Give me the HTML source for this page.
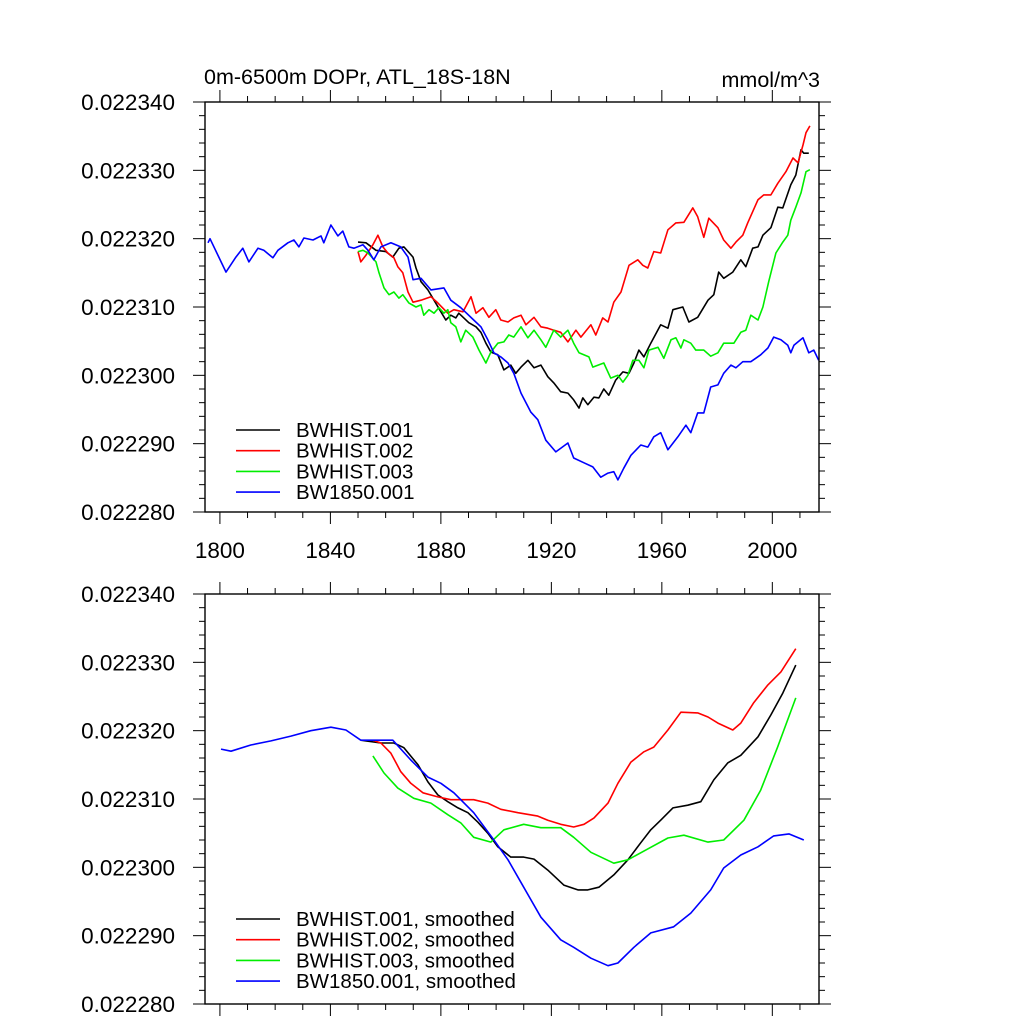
<!DOCTYPE html>
<html><head><meta charset="utf-8"><style>
html,body{margin:0;padding:0;background:#fff;}
svg{display:block;font-family:"Liberation Sans",Arial,sans-serif;}
</style></head><body>
<svg id="chart" width="1024" height="1024" viewBox="0 0 1024 1024" xmlns="http://www.w3.org/2000/svg">
<text x="204" y="84" font-size="21.5">0m-6500m DOPr, ATL_18S-18N</text>
<text x="820" y="87" font-size="21.5" text-anchor="end">mmol/m^3</text>
</svg>
<script>
// ---- data (mmol/m^3) ----
const blackYears=[1850.0,1852.9,1856.5,1860.1,1862.6,1864.8,1866.6,1869.9,1871.0,1872.8,1875.3,1877.5,1880.0,1881.8,1883.6,1885.4,1886.5,1888.3,1890.1,1892.7,1894.5,1896.3,1898.1,1900.6,1902.8,1905.3,1907.1,1909.0,1911.5,1913.7,1916.2,1918.7,1920.9,1923.4,1926.0,1928.1,1930.0,1931.4,1933.2,1935.4,1937.2,1939.0,1940.8,1943.3,1945.9,1948.1,1949.9,1951.7,1953.5,1956.0,1959.6,1962.2,1964.0,1967.6,1969.8,1973.0,1976.7,1978.8,1980.6,1982.4,1985.7,1988.6,1990.4,1992.9,1994.8,1996.6,1999.5,2002.0,2003.8,2006.7,2008.5,2010.4,2011.4,2013.2];
const blackVals=[0.0223195,0.0223194,0.0223183,0.0223181,0.0223173,0.0223186,0.0223188,0.0223173,0.0223157,0.0223137,0.0223125,0.0223110,0.0223093,0.0223081,0.0223088,0.0223084,0.0223091,0.0223084,0.0223077,0.0223071,0.0223063,0.0223047,0.0223034,0.0223030,0.0223008,0.0223015,0.0223003,0.0223012,0.0223022,0.0223011,0.0223015,0.0222998,0.0222989,0.0222976,0.0222974,0.0222964,0.0222952,0.0222967,0.0222957,0.0222968,0.0222967,0.0222980,0.0222971,0.0222993,0.0223005,0.0223003,0.0223018,0.0223037,0.0223027,0.0223047,0.0223074,0.0223069,0.0223096,0.0223100,0.0223078,0.0223085,0.0223110,0.0223118,0.0223151,0.0223142,0.0223151,0.0223169,0.0223159,0.0223186,0.0223188,0.0223205,0.0223216,0.0223246,0.0223245,0.0223279,0.0223293,0.0223330,0.0223325,0.0223325];
const redYears=[1850.0,1851.0,1852.9,1855.4,1857.2,1859.0,1860.8,1863.0,1864.4,1866.2,1868.1,1869.9,1872.8,1876.4,1878.9,1882.5,1884.7,1888.0,1890.9,1892.7,1895.2,1897.4,1899.9,1901.7,1904.3,1906.4,1909.0,1910.8,1913.7,1916.2,1918.7,1920.9,1923.4,1926.0,1928.9,1930.7,1934.3,1936.1,1938.6,1940.5,1942.6,1945.2,1948.1,1951.3,1953.1,1954.9,1957.1,1959.6,1962.2,1965.1,1968.0,1971.2,1973.0,1975.2,1977.0,1980.3,1982.4,1985.0,1986.8,1989.3,1991.1,1994.8,1996.9,1999.5,2002.0,2004.9,2007.5,2009.3,2011.1,2012.2,2013.6];
const redVals=[0.0223181,0.0223166,0.0223176,0.0223191,0.0223205,0.0223188,0.0223179,0.0223172,0.0223159,0.0223150,0.0223122,0.0223107,0.0223110,0.0223115,0.0223106,0.0223091,0.0223096,0.0223093,0.0223115,0.0223091,0.0223099,0.0223085,0.0223096,0.0223081,0.0223078,0.0223084,0.0223088,0.0223074,0.0223085,0.0223071,0.0223069,0.0223066,0.0223063,0.0223049,0.0223066,0.0223056,0.0223074,0.0223059,0.0223084,0.0223078,0.0223107,0.0223122,0.0223161,0.0223169,0.0223161,0.0223157,0.0223181,0.0223179,0.0223213,0.0223223,0.0223224,0.0223245,0.0223232,0.0223202,0.0223230,0.0223216,0.0223198,0.0223186,0.0223195,0.0223205,0.0223223,0.0223257,0.0223264,0.0223264,0.0223281,0.0223298,0.0223318,0.0223311,0.0223337,0.0223355,0.0223365];
const greenYears=[1850.0,1851.8,1853.6,1856.5,1857.6,1859.4,1861.2,1863.0,1864.8,1866.2,1868.4,1871.0,1872.8,1873.8,1875.7,1877.5,1879.3,1881.1,1882.5,1883.6,1885.4,1887.2,1889.0,1891.6,1893.8,1896.3,1898.1,1900.6,1902.8,1904.6,1906.4,1909.0,1911.5,1913.7,1916.2,1918.0,1920.9,1923.4,1926.0,1928.1,1930.0,1933.6,1935.0,1939.0,1941.5,1944.1,1945.9,1947.7,1949.5,1951.7,1953.5,1955.3,1958.6,1960.7,1963.3,1965.1,1966.9,1968.0,1970.5,1972.3,1975.2,1977.7,1980.3,1982.4,1986.1,1988.6,1990.4,1992.2,1994.8,1996.6,1998.7,2001.3,2003.8,2005.6,2006.7,2008.5,2010.4,2012.2,2013.6];
const greenVals=[0.0223181,0.0223183,0.0223179,0.0223166,0.0223150,0.0223128,0.0223118,0.0223122,0.0223113,0.0223118,0.0223106,0.0223100,0.0223103,0.0223088,0.0223096,0.0223091,0.0223099,0.0223091,0.0223096,0.0223077,0.0223071,0.0223049,0.0223066,0.0223056,0.0223037,0.0223018,0.0223034,0.0223047,0.0223049,0.0223059,0.0223056,0.0223071,0.0223055,0.0223066,0.0223052,0.0223041,0.0223066,0.0223056,0.0223066,0.0223047,0.0223033,0.0223027,0.0223012,0.0223018,0.0222996,0.0223000,0.0222990,0.0223000,0.0223022,0.0223022,0.0223011,0.0223037,0.0223041,0.0223025,0.0223052,0.0223055,0.0223040,0.0223052,0.0223047,0.0223037,0.0223037,0.0223028,0.0223033,0.0223047,0.0223047,0.0223063,0.0223066,0.0223088,0.0223081,0.0223100,0.0223137,0.0223179,0.0223195,0.0223205,0.0223227,0.0223246,0.0223267,0.0223298,0.0223301];
const blueYears=[1795.7,1796.4,1802.2,1805.8,1808.3,1810.5,1813.8,1815.9,1819.2,1821.0,1824.6,1826.8,1828.6,1830.4,1833.7,1836.6,1837.6,1840.2,1842.7,1844.5,1846.7,1848.5,1851.8,1853.6,1855.7,1858.3,1861.9,1865.5,1868.1,1869.9,1872.8,1876.4,1881.1,1883.6,1887.2,1891.9,1894.5,1897.0,1899.2,1901.7,1904.3,1906.4,1909.0,1912.6,1915.1,1918.0,1921.6,1926.0,1928.1,1931.8,1935.0,1937.9,1940.5,1942.6,1944.1,1946.2,1948.8,1952.4,1954.9,1957.1,1959.6,1962.2,1965.8,1968.7,1970.5,1973.0,1975.2,1977.7,1980.3,1982.4,1985.0,1986.8,1989.3,1992.2,1994.0,1995.8,1998.4,2000.5,2003.1,2005.6,2006.7,2007.8,2011.1,2013.2,2015.0,2016.8];
const blueVals=[0.0223194,0.0223200,0.0223151,0.0223173,0.0223186,0.0223166,0.0223186,0.0223183,0.0223172,0.0223183,0.0223194,0.0223198,0.0223188,0.0223201,0.0223198,0.0223204,0.0223194,0.0223220,0.0223204,0.0223211,0.0223188,0.0223186,0.0223191,0.0223183,0.0223169,0.0223188,0.0223194,0.0223188,0.0223173,0.0223140,0.0223142,0.0223125,0.0223128,0.0223110,0.0223099,0.0223081,0.0223071,0.0223052,0.0223033,0.0223027,0.0223018,0.0223003,0.0222974,0.0222946,0.0222935,0.0222905,0.0222888,0.0222901,0.0222879,0.0222872,0.0222866,0.0222851,0.0222857,0.0222859,0.0222847,0.0222864,0.0222883,0.0222898,0.0222895,0.0222910,0.0222916,0.0222891,0.0222910,0.0222927,0.0222916,0.0222945,0.0222945,0.0222983,0.0222986,0.0223003,0.0223015,0.0223011,0.0223020,0.0223020,0.0223025,0.0223030,0.0223040,0.0223056,0.0223052,0.0223044,0.0223033,0.0223044,0.0223055,0.0223033,0.0223037,0.0223022];
// smoothed
const sBlackYears=[1851.0,1858.3,1863.0,1866.6,1871.7,1875.3,1878.9,1882.5,1886.2,1889.8,1893.4,1897.0,1900.6,1905.3,1910.0,1913.7,1918.7,1924.5,1929.6,1933.2,1937.2,1942.6,1947.7,1952.4,1956.0,1959.6,1964.0,1969.4,1974.1,1978.8,1983.9,1988.6,1994.8,1999.5,2003.8,2008.5];
const sBlackVals=[0.0223186,0.0223182,0.0223182,0.0223175,0.0223150,0.0223125,0.0223106,0.0223096,0.0223087,0.0223080,0.0223066,0.0223050,0.0223030,0.0223015,0.0223015,0.0223012,0.0222996,0.0222974,0.0222967,0.0222967,0.0222971,0.0222989,0.0223011,0.0223036,0.0223055,0.0223069,0.0223087,0.0223091,0.0223096,0.0223128,0.0223153,0.0223164,0.0223191,0.0223223,0.0223255,0.0223296];
const sRedYears=[1855.4,1858.3,1861.9,1865.5,1869.1,1873.5,1878.9,1883.6,1891.9,1897.0,1901.7,1907.9,1915.1,1918.7,1923.4,1928.1,1931.8,1935.4,1940.5,1944.1,1948.8,1953.5,1957.1,1962.2,1966.9,1973.0,1976.7,1980.3,1985.7,1988.6,1993.3,1998.4,2003.1,2008.5];
const sRedVals=[0.0223186,0.0223182,0.0223167,0.0223140,0.0223123,0.0223109,0.0223103,0.0223099,0.0223099,0.0223094,0.0223085,0.0223080,0.0223075,0.0223069,0.0223063,0.0223059,0.0223063,0.0223072,0.0223094,0.0223123,0.0223154,0.0223169,0.0223176,0.0223201,0.0223227,0.0223226,0.0223220,0.0223211,0.0223201,0.0223211,0.0223241,0.0223267,0.0223286,0.0223320];
const sGreenYears=[1855.4,1859.4,1864.4,1870.2,1876.4,1882.5,1887.2,1891.9,1898.1,1902.8,1910.0,1916.2,1923.4,1928.1,1934.3,1942.6,1947.7,1954.9,1962.2,1968.0,1976.7,1982.4,1989.7,1995.8,2001.9,2008.5];
const sGreenVals=[0.0223163,0.0223138,0.0223116,0.0223101,0.0223094,0.0223077,0.0223065,0.0223044,0.0223037,0.0223055,0.0223063,0.0223058,0.0223058,0.0223044,0.0223022,0.0223006,0.0223011,0.0223027,0.0223043,0.0223047,0.0223037,0.0223040,0.0223069,0.0223113,0.0223176,0.0223248];
const sBlueYears=[1800.4,1804.0,1811.2,1818.5,1825.7,1832.9,1840.2,1845.6,1851.0,1862.6,1869.1,1875.3,1880.0,1884.7,1891.9,1899.2,1904.3,1910.0,1916.2,1923.4,1928.1,1934.3,1940.5,1944.1,1949.9,1956.0,1964.3,1970.5,1977.7,1982.4,1988.6,1994.8,2000.5,2006.0,2011.4];
const sBlueVals=[0.0223173,0.0223170,0.0223179,0.0223185,0.0223192,0.0223200,0.0223205,0.0223201,0.0223186,0.0223186,0.0223157,0.0223132,0.0223123,0.0223109,0.0223080,0.0223040,0.0223011,0.0222971,0.0222927,0.0222894,0.0222883,0.0222867,0.0222856,0.0222860,0.0222883,0.0222904,0.0222913,0.0222933,0.0222967,0.0222999,0.0223018,0.0223030,0.0223046,0.0223049,0.0223040];
const yTickVals=[0.022280,0.022290,0.022300,0.022310,0.022320,0.022330,0.022340];
const yTickLabels=["0.022280","0.022290","0.022300","0.022310","0.022320","0.022330","0.022340"];
const xTickVals=[1800,1840,1880,1920,1960,2000];
const xTickLabels=["1800","1840","1880","1920","1960","2000"];
const topLegend=["BWHIST.001","BWHIST.002","BWHIST.003","BW1850.001"];
const botLegend=["BWHIST.001, smoothed","BWHIST.002, smoothed","BWHIST.003, smoothed","BW1850.001, smoothed"];
const colors=["#000000","#ff0000","#00ee00","#0000ff"];

const NS="http://www.w3.org/2000/svg";
const svg=document.getElementById('chart');
const X0=205,X1=819,YR0=1794.6,YR1=2016.9,VMIN=0.02228,VMAX=0.02234;
function mk(tag,attrs,parent){const e=document.createElementNS(NS,tag);for(const k in attrs)e.setAttribute(k,attrs[k]);(parent||svg).appendChild(e);return e;}
function panel(top,bottom,name,series,legend,legY,showXLabels){
  const g=mk('g',{});
  
  
  const xs=yr=>X0+(yr-YR0)/(YR1-YR0)*(X1-X0);
  const ys=v=>bottom-(v-VMIN)/(VMAX-VMIN)*(bottom-top);
  series.forEach((s,i)=>{
    const d=s[0].map((yr,j)=>(j?'L':'M')+xs(yr).toFixed(1)+','+ys(s[1][j]).toFixed(1)).join('');
    const p=mk('path',{d:d,fill:'none',stroke:colors[i],'stroke-width':1.6,'stroke-linejoin':'round'},g);
    
    
  });
  const fr=mk('rect',{x:X0,y:top,width:X1-X0,height:bottom-top,fill:'none',stroke:'#000','stroke-width':1.4},g);
  
  
  for(let k=0;k<=30;k++){
    const v=VMIN+k*0.000002, y=ys(v), major=k%5===0, L=major?12:6;
    mk('line',{x1:X0-L,y1:y,x2:X0,y2:y,stroke:'#000','stroke-width':1},g);
    mk('line',{x1:X1,y1:y,x2:X1+L,y2:y,stroke:'#000','stroke-width':1},g);
  }
  yTickVals.forEach((v,i)=>{
    const t=mk('text',{x:175,y:ys(v)+8,'font-size':22.5,'text-anchor':'end'},g);
    t.textContent=yTickLabels[i];
    
    
  });
  for(let yr=1800;yr<=2010;yr+=10){
    const x=xs(yr), major=(yr-1800)%40===0, L=major?12:6;
    mk('line',{x1:x,y1:bottom,x2:x,y2:bottom+L,stroke:'#000','stroke-width':1},g);
    mk('line',{x1:x,y1:top-L,x2:x,y2:top,stroke:'#000','stroke-width':1},g);
  }
  if(showXLabels){
    xTickVals.forEach((v,i)=>{
      const t=mk('text',{x:xs(v),y:bottom+46,'font-size':22.5,'text-anchor':'middle'},g);
      t.textContent=xTickLabels[i];
      
      
    });
  }
  legend.forEach((lab,i)=>{
    const y=legY+i*20.7;
    const ln=mk('line',{x1:236,y1:y,x2:280,y2:y,stroke:colors[i],'stroke-width':1.6},g);
    
    
    const t=mk('text',{x:296,y:y+7,'font-size':20.5},g);
    t.textContent=lab;
    
    
  });
}
panel(102,512,'top-panel',[[blackYears,blackVals],[redYears,redVals],[greenYears,greenVals],[blueYears,blueVals]],topLegend,430,true);
panel(594,1004,'bottom-panel',[[sBlackYears,sBlackVals],[sRedYears,sRedVals],[sGreenYears,sGreenVals],[sBlueYears,sBlueVals]],botLegend,919,false);
</script>
</body></html>
